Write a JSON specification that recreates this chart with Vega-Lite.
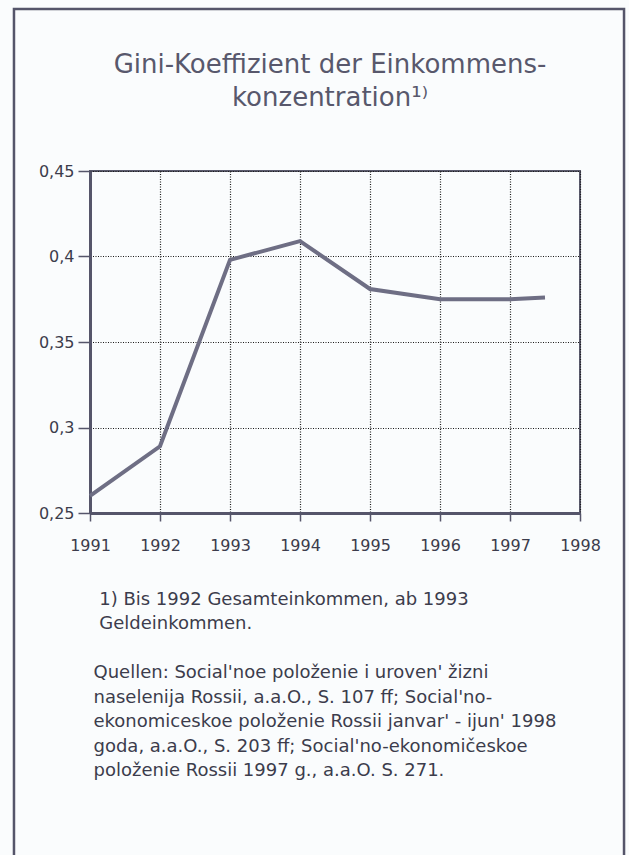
{
  "$schema": "https://vega.github.io/schema/vega-lite/v6.json",
  "width": 490,
  "height": 342,
  "autosize": {"type": "none"},
  "padding": {"left": 90, "top": 171, "right": 49, "bottom": 342},
  "background": "#fafcfd",
  "title": {
    "text": ["Gini-Koeffizient der Einkommens-", "konzentration¹⁾"],
    "font": "DejaVu Sans",
    "fontSize": 26,
    "fontWeight": "normal",
    "color": "#58586c",
    "anchor": "middle",
    "dx": -5,
    "offset": -103,
    "lineHeight": 33
  },
  "config": {
    "font": "DejaVu Sans",
    "view": {"stroke": "#5a5a6c", "strokeWidth": 2}
  },
  "layer": [
    {
      "data": {
        "values": [
          {"year": 1991, "gini": 0.26},
          {"year": 1992, "gini": 0.289},
          {"year": 1993, "gini": 0.398},
          {"year": 1994, "gini": 0.409},
          {"year": 1995, "gini": 0.381},
          {"year": 1996, "gini": 0.375},
          {"year": 1997, "gini": 0.375},
          {"year": 1997.5, "gini": 0.376}
        ]
      },
      "mark": {"type": "line", "color": "#6e6e84", "strokeWidth": 4, "strokeJoin": "miter"},
      "encoding": {
        "x": {
          "field": "year",
          "type": "quantitative",
          "scale": {"domain": [1991, 1998], "nice": false, "zero": false},
          "axis": {
            "values": [1991, 1992, 1993, 1994, 1995, 1996, 1997, 1998],
            "format": "d",
            "labelFlush": false,
            "labelOverlap": false,
            "labelFontSize": 16,
            "labelColor": "#3c3c4c",
            "labelPadding": 16,
            "tickSize": 8,
            "tickColor": "#55556a",
            "tickWidth": 1.5,
            "domainColor": "#55556a",
            "domainWidth": 3,
            "grid": true,
            "gridColor": "#1a1a1a",
            "gridDash": [1, 1.5],
            "gridWidth": 1.2,
            "gridOpacity": 1,
            "title": [
              "\u200b\u00a01) Bis 1992 Gesamteinkommen, ab 1993",
              "\u200b\u00a0Geldeinkommen.",
              "\u200b",
              "Quellen: Social'noe položenie i uroven' žizni",
              "naselenija Rossii, a.a.O., S. 107 ff; Social'no-",
              "ekonomiceskoe položenie Rossii janvar' - ijun' 1998",
              "goda, a.a.O., S. 203 ff; Social'no-ekonomičeskoe",
              "položenie Rossii 1997 g., a.a.O. S. 271."
            ],
            "titleFont": "DejaVu Sans",
            "titleFontSize": 18,
            "titleFontWeight": "normal",
            "titleColor": "#3c3c4c",
            "titleAlign": "left",
            "titleAnchor": "start",
            "titleBaseline": "alphabetic",
            "titleX": 3,
            "titleY": 91,
            "titleLineHeight": 24.5
          }
        },
        "y": {
          "field": "gini",
          "type": "quantitative",
          "scale": {"domain": [0.25, 0.45], "nice": false, "zero": false},
          "axis": {
            "values": [0.25, 0.3, 0.35, 0.4, 0.45],
            "labelExpr": "replace(format(datum.value, '.2~f'), '.', ',')",
            "labelFontSize": 16,
            "labelColor": "#3c3c4c",
            "labelPadding": 4,
            "tickSize": 12,
            "tickColor": "#55556a",
            "tickWidth": 1.5,
            "domainColor": "#55556a",
            "domainWidth": 3,
            "grid": true,
            "gridColor": "#1a1a1a",
            "gridDash": [1, 1.5],
            "gridWidth": 1.2,
            "gridOpacity": 1,
            "title": null
          }
        }
      }
    },
    {
      "data": {"values": [{}]},
      "mark": {"type": "rect", "filled": false, "color": "#55556a", "strokeWidth": 2.5},
      "encoding": {
        "x": {"datum": 1989.914, "type": "quantitative"},
        "x2": {"datum": 1998.629},
        "y": {"datum": 0.5447, "type": "quantitative"},
        "y2": {"datum": 0.0412}
      }
    }
  ]
}
